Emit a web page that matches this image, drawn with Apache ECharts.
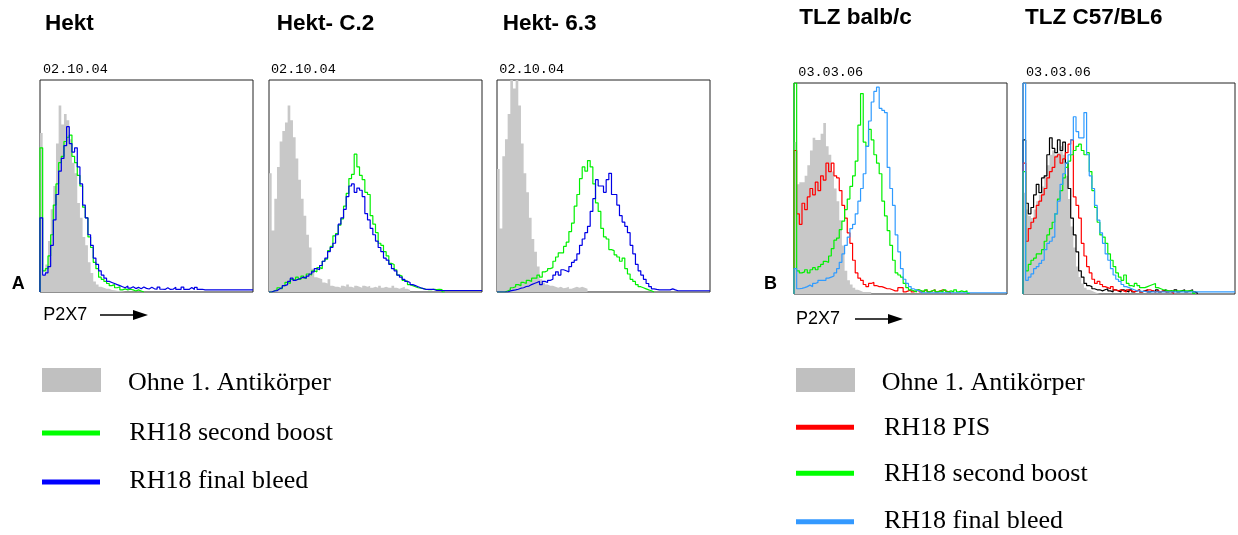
<!DOCTYPE html>
<html>
<head>
<meta charset="utf-8">
<script src="https://cdn.jsdelivr.net/npm/echarts@6/dist/echarts.min.js"></script>
<style>
html,body{margin:0;padding:0;background:#fff;}
#chart{width:1238px;height:535px;}
</style>
</head>
<body>
<div id="chart"></div>
<script>
// ---- Panel texts ----
const panelTitles = ['Hekt', 'Hekt- C.2', 'Hekt- 6.3', 'TLZ balb/c', 'TLZ C57/BL6'];
const panelDates = ['02.10.04', '02.10.04', '02.10.04', '03.03.06', '03.03.06'];
const sectionLabels = ['A', 'B'];
const axisLabel = 'P2X7';
const legendA = ['Ohne 1. Antikörper', 'RH18 second boost', 'RH18 final bleed'];
const legendB = ['Ohne 1. Antikörper', 'RH18 PIS', 'RH18 second boost', 'RH18 final bleed'];

// ---- Histogram values (% of panel height), 80 channels per panel ----
// Panel 1: Hekt
const hektGrey = [75, 8, 13, 24, 39, 50, 70, 88, 79, 84, 81, 72, 61, 56, 42, 35, 26, 22, 14, 9, 5, 3.5, 2.5, 2, 1.5, 1.5, 1, 0.8, 0.6, 0.5, 0.4, 0];
const hektGreen = [68, 10, 11, 17, 27, 41, 51, 61, 64, 71, 73, 74, 64, 61, 55, 50, 40, 35, 26, 21, 14, 11, 7, 6, 5, 4, 3, 3.5, 2, 2.5, 1, 1.5, 1, 1.3, 1, 0.5, 1, 0.5, 0];
const hektBlue = [35, 8, 9, 12, 22, 34, 46, 57, 63, 69, 78, 70, 66, 68, 59, 51, 41, 35, 27, 22, 16, 13, 10, 8, 6.5, 5, 4.5, 4, 3.5, 3, 2.5, 2, 2.8, 1.8, 2.5, 1.6, 2.2, 1.5, 2.4, 1.7, 1.4, 2.2, 1.5, 1.3, 2.3, 1.3, 1.2, 2, 1.2, 1.3, 2.2, 1.2, 1.2, 2.3, 1.2, 1.2, 2.1, 1.2, 2.2, 1.2, 1.3, 1, 1, 1, 1, 1, 1, 1, 1, 1, 1, 1, 1, 1, 1, 1, 1, 1, 1, 1];
// Panel 2: Hekt- C.2
const c2Grey = [56, 29, 44, 59, 71, 76, 80, 88, 81, 73, 63, 53, 44, 36, 27, 21, 11, 7, 6.5, 6, 4.5, 4, 6, 3, 2.5, 2.5, 2, 3, 2.5, 3.5, 2.5, 2, 3, 2.5, 2, 3, 2.5, 3, 2, 2.5, 2, 3, 2, 2.5, 2, 2, 3, 2, 1.5, 2, 2.5, 1.5, 1, 0];
const c2Green = [0, 0.5, 1, 2, 1.5, 3, 4.5, 4, 6, 5.5, 7, 6, 7.5, 6.5, 8.5, 8, 10, 9.5, 11.5, 11, 14.5, 15.5, 19.5, 21.5, 26.5, 27.5, 31.5, 34.5, 40.5, 46.5, 53.5, 55.5, 65, 59, 55, 53, 47, 46, 36, 32, 28, 23, 22, 19, 17, 13.5, 13, 10.5, 8, 7.5, 5.5, 5, 3.5, 3, 2.5, 2, 1.8, 1.6, 1.3, 1.1, 1.1, 1.3, 1.1, 1.3, 1.1, 0];
const c2Blue = [0, 0.5, 0.6, 1.5, 2, 3, 3.5, 5, 6.5, 5.5, 6, 6.5, 7, 6.5, 7.5, 8.5, 9.5, 11, 10.5, 12.5, 14.5, 16, 19, 21, 23, 27, 32, 35, 39, 45, 50, 51, 47, 49, 48, 45, 37, 34, 30, 27, 24, 21, 19, 16, 15, 13, 11, 10, 8, 7, 6, 5, 4.5, 3.5, 3, 2.5, 2, 1.6, 1.2, 1.2, 1.2, 1.2, 0.7, 0.7, 0.7, 0.7, 0.7, 0.7, 0.7, 0.7, 0.7, 0.7, 0.7, 0.7, 0.7, 0.7, 0.7, 0.7, 0.7, 0.7];
// Panel 3: Hekt- 6.3
const s63Grey = [58, 30, 64, 72, 84, 100, 96, 100, 88, 70, 56, 47, 35, 25, 19, 12, 6, 4.5, 3.5, 3, 3, 2.5, 2, 2.5, 1.8, 2, 2.5, 1.5, 2, 2.5, 2, 2.5, 2, 1.5, 0];
const s63Green = [0, 0, 0, 0.5, 1, 2, 2.5, 3.5, 3, 4.5, 4, 5.5, 5, 6.5, 6.5, 8, 7, 9.5, 10, 11, 11.5, 14.5, 16.5, 18.5, 18.5, 21.5, 23.5, 28.5, 32.5, 40.5, 46, 53.5, 59, 57, 62, 59, 51, 42, 38, 30, 26, 25, 20, 19.5, 17.5, 16.5, 14.5, 16, 11, 8.5, 6, 5, 3.5, 2.5, 2, 1.5, 1, 0.6, 0];
const s63Blue = [0, 0, 0, 0, 0.5, 0.8, 1, 1.3, 1.8, 2, 2.6, 2.8, 3.5, 4, 4.5, 5, 3.5, 5, 4.5, 5.5, 6, 8, 9.5, 8, 10.5, 10, 9.5, 12, 14, 15, 18, 22, 25, 28, 31, 38, 44, 53, 50, 50, 47, 53, 56, 46, 46, 41, 36, 33, 31, 28, 22, 18, 13, 10, 8, 6, 4, 2.5, 1.5, 1.2, 1, 1, 1, 1, 1, 1.5, 1, 0.6, 0.6, 0.6, 0.6, 0.6, 0.6, 0.6, 0.6, 0.6, 0.6, 0.6, 0.6, 0.6];
// Panel 4: TLZ balb/c
const balbGrey = [72, 52, 53, 53, 56, 61, 68, 74, 73, 73, 76, 81, 70, 66, 58, 50, 44, 35, 23, 11, 6.5, 4.5, 3, 2, 1.5, 1, 1, 1, 1, 0];
const balbRed = [68, 38, 33, 43, 40, 46, 50, 47, 53, 49, 56, 54, 62, 58, 62, 56, 55, 49, 42, 36, 29, 24, 16, 10, 7.5, 6.5, 4.5, 3.5, 5, 5.5, 4, 3.5, 3.5, 3, 2.5, 2.5, 2, 1.5, 1.5, 3, 3, 1, 1.5, 2, 1, 1.5, 2, 1, 1.5, 2, 1, 1.5, 2, 1, 1.5, 2, 1.5, 1, 0.5];
const balbGreen = [100, 11, 10, 10.5, 11.5, 10, 11.5, 12.5, 11.5, 13, 14, 15.5, 15, 18, 21.5, 25.5, 26.5, 30.5, 34.5, 40, 45, 51, 56, 63, 80, 95, 72, 70, 78, 73, 66, 62, 57, 44, 37, 30, 23, 16, 10, 9, 8, 5, 3, 2, 1.5, 1, 2, 1.5, 1, 2, 1, 1.5, 2, 1, 1.5, 1, 2, 1, 1.5, 1, 2, 1, 1.5, 1, 1.5, 0.3];
const balbBlue = [12, 2.5, 2.7, 3, 3.5, 4.2, 3.5, 5, 5.5, 6.5, 6.5, 6.5, 7.5, 8, 8.5, 10, 12, 15, 19, 23, 27, 31, 33, 38, 44, 50, 57, 70, 82, 91, 96, 98, 88, 87, 86, 60, 50, 42, 28, 20, 12, 7, 5, 3.5, 2.5, 1.8, 1.5, 0.6, 0.6, 0.6, 0.6, 0.6, 0.6, 0.6, 0.6, 0.6, 0.6, 0.6, 0.6, 0.6, 0.6, 0.6, 0.6, 0.6, 0.6, 0.6, 0.6, 0.6, 0.6, 0.6, 0.6, 0.6, 0.6, 0.6, 0.6, 0.6, 0.6, 0.6, 0.6, 0.6];
// Panel 5: TLZ C57/BL6
const c57Grey = [48, 40, 37, 36, 40, 44, 47, 51, 56, 61, 66, 68, 66, 67, 70, 66, 56, 45, 32, 22, 13, 8, 5, 3, 2, 1.5, 1, 0.5, 0];
const c57Black = [73, 43, 38, 41, 47, 52, 48, 55, 56, 66, 74, 69, 67, 73, 68, 72, 62, 50, 36, 28, 20, 11, 8, 5, 4, 3.5, 2.5, 2, 2, 1.5, 2, 2.5, 1.5, 1, 2, 1.5, 1, 2, 1.5, 1, 2, 1, 1.5, 2, 1, 1.5, 2, 1, 1.5, 1, 2, 1, 1.5, 2, 1, 1.5, 1, 2, 1, 1.5, 2, 1, 1.5, 2, 1, 0.3];
const c57Red = [62, 25, 31, 34, 36, 42, 44, 47, 50, 55, 58, 60, 65, 66, 62, 64, 67, 71, 73, 46, 42, 36, 24, 18, 13, 10, 7, 5, 6, 4.5, 3.5, 3, 2.5, 3.5, 2, 1.5, 2, 1.5, 1, 2, 1.5, 1, 1.5, 2, 1, 1.5, 1, 2, 1.5, 1, 1.5, 1, 1.5, 1, 1.5, 1, 0.3];
const c57Green = [58, 11, 14, 16, 17, 19, 19, 21, 25, 28, 31, 34, 38, 45, 49, 55, 60, 63, 66, 68, 70, 71, 68, 66, 67, 58, 49, 41, 34, 28, 27, 24, 19, 16, 13, 10, 8, 6.5, 9, 5, 4, 3.5, 5, 4, 3, 3, 3.5, 4, 4.5, 5, 3, 2.5, 2, 1.8, 1.5, 1.5, 1.5, 1.5, 1.5, 1.5, 1.5, 1.5, 1.5, 1.5, 0.3];
const c57Blue = [100, 6.5, 8, 9.5, 12, 13, 14.5, 16, 21, 24, 25, 27, 38, 44, 52, 57, 62, 66, 73, 84, 77, 74, 74, 86, 66, 56, 50, 42, 35, 29, 24, 19, 16, 12, 9, 7, 6, 4.5, 3.5, 3, 2.5, 2, 1.5, 1.5, 1.2, 1.2, 1, 1, 1, 1, 1, 1, 1, 1, 1, 1, 1, 1, 1, 1, 1, 1, 1, 1, 1, 1, 1, 1, 1, 1, 1, 1, 1, 1, 1, 1, 1, 1, 1, 1];

const CHANNELS = 80;
const GREY = '#c8c8c8';
const COLORS = {green: '#00f000', blue: '#0000e6', red: '#ff0000', lightBlue: '#2f9bff', black: '#000000'};

// panel boxes (pixels)
const boxes = [
  {left: 40, top: 80, width: 213, height: 212},
  {left: 269, top: 80, width: 213, height: 212},
  {left: 497, top: 80, width: 213, height: 212},
  {left: 794, top: 83, width: 213, height: 211},
  {left: 1023, top: 83, width: 212, height: 211}
];

const panelSeries = [
  [['grey', hektGrey], [COLORS.green, hektGreen], [COLORS.blue, hektBlue]],
  [['grey', c2Grey], [COLORS.green, c2Green], [COLORS.blue, c2Blue]],
  [['grey', s63Grey], [COLORS.green, s63Green], [COLORS.blue, s63Blue]],
  [['grey', balbGrey], [COLORS.red, balbRed], [COLORS.green, balbGreen], [COLORS.lightBlue, balbBlue]],
  [['grey', c57Grey], [COLORS.black, c57Black], [COLORS.red, c57Red], [COLORS.green, c57Green], [COLORS.lightBlue, c57Blue]]
];

function stepData(arr) {
  const d = [[0, 0]];
  for (let i = 0; i < arr.length; i++) d.push([i, arr[i]]);
  d.push([arr.length, arr[arr.length - 1]]);
  return d;
}

const grid = [], xAxis = [], yAxis = [], series = [];
boxes.forEach((b, p) => {
  grid.push({left: b.left, top: b.top, width: b.width, height: b.height, show: true, borderColor: '#222', borderWidth: 1, backgroundColor: 'transparent'});
  xAxis.push({type: 'value', gridIndex: p, min: 0, max: CHANNELS, show: false});
  yAxis.push({type: 'value', gridIndex: p, min: 0, max: 100, show: false});
  panelSeries[p].forEach(([col, arr]) => {
    const isGrey = col === 'grey';
    series.push({
      type: 'line', xAxisIndex: p, yAxisIndex: p, step: 'end', symbol: 'none', silent: true,
      data: stepData(arr), clip: true,
      lineStyle: isGrey ? {width: 0, color: GREY} : {width: 1.2, color: col},
      itemStyle: {color: isGrey ? GREY : col},
      areaStyle: isGrey ? {color: GREY, opacity: 1} : undefined,
      z: isGrey ? 1 : 2
    });
  });
});

// ---- graphic texts / legend ----
const SANS = '"Liberation Sans", Arial, sans-serif';
const SERIF = '"Liberation Serif", "Times New Roman", serif';
const MONO = '"Liberation Mono", monospace';
function txt(text, x, y, font, align) {
  return {type: 'text', x: x, y: y, silent: true, style: {text: text, font: font, fill: '#000', textAlign: align || 'left', align: align || 'left', textVerticalAlign: 'middle', verticalAlign: 'middle'}};
}
const graphic = [];
const titlePos = [[45, 24.2], [276.7, 24.2], [502.7, 24.2], [799.3, 17.5], [1025, 17.5]];
const datePos = [[43, 69.2], [271, 69.2], [499.3, 69.2], [798.3, 72.5], [1026, 72.5]];
panelTitles.forEach((t, i) => graphic.push(txt(t, titlePos[i][0], titlePos[i][1], 'bold 22.5px ' + SANS)));
panelDates.forEach((t, i) => graphic.push(txt(t, datePos[i][0], datePos[i][1], '13.5px ' + MONO)));
graphic.push(txt(sectionLabels[0], 11.7, 284.5, 'bold 18px ' + SANS));
graphic.push(txt(sectionLabels[1], 764, 283.8, 'bold 18px ' + SANS));
graphic.push(txt(axisLabel, 43.3, 315.5, '18px ' + SANS));
graphic.push(txt(axisLabel, 796, 318.8, '18px ' + SANS));
// arrows
[[100, 315], [855, 319]].forEach(([x, y]) => {
  graphic.push({type: 'line', silent: true, shape: {x1: x, y1: y, x2: x + 34, y2: y}, style: {stroke: '#000', lineWidth: 1.3}});
  graphic.push({type: 'polygon', silent: true, shape: {points: [[x + 33, y - 5], [x + 48, y], [x + 33, y + 5]]}, style: {fill: '#000'}});
});
// legend A
graphic.push({type: 'rect', silent: true, shape: {x: 42, y: 368, width: 59, height: 24}, style: {fill: '#c0c0c0'}});
graphic.push({type: 'line', silent: true, shape: {x1: 42, y1: 433, x2: 100, y2: 433}, style: {stroke: '#00ff00', lineWidth: 5}});
graphic.push({type: 'line', silent: true, shape: {x1: 42, y1: 482, x2: 100, y2: 482}, style: {stroke: '#0000ff', lineWidth: 5}});
graphic.push(txt(legendA[0], 128, 383.5, '26px ' + SERIF));
graphic.push(txt(legendA[1], 129.3, 433.5, '26px ' + SERIF));
graphic.push(txt(legendA[2], 129.3, 481.2, '26px ' + SERIF));
// legend B
graphic.push({type: 'rect', silent: true, shape: {x: 796, y: 368, width: 59, height: 24}, style: {fill: '#c0c0c0'}});
graphic.push({type: 'line', silent: true, shape: {x1: 796, y1: 427.3, x2: 854, y2: 427.3}, style: {stroke: '#ff0000', lineWidth: 5}});
graphic.push({type: 'line', silent: true, shape: {x1: 796, y1: 473.3, x2: 854, y2: 473.3}, style: {stroke: '#00ff00', lineWidth: 5}});
graphic.push({type: 'line', silent: true, shape: {x1: 796, y1: 521.7, x2: 854, y2: 521.7}, style: {stroke: '#3399ff', lineWidth: 5}});
graphic.push(txt(legendB[0], 881.7, 383.5, '26px ' + SERIF));
graphic.push(txt(legendB[1], 884, 428.5, '26px ' + SERIF));
graphic.push(txt(legendB[2], 884, 474.5, '26px ' + SERIF));
graphic.push(txt(legendB[3], 884, 521.2, '26px ' + SERIF));

const chart = echarts.init(document.getElementById('chart'), null, {renderer: 'canvas'});
chart.setOption({
  animation: false,
  backgroundColor: '#ffffff',
  grid: grid, xAxis: xAxis, yAxis: yAxis, series: series,
  graphic: graphic
});
</script>
</body>
</html>
